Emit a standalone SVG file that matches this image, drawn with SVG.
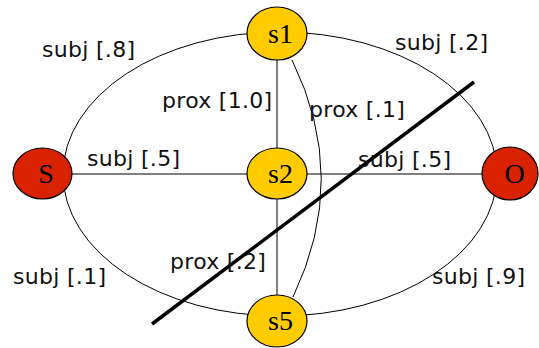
<svg xmlns="http://www.w3.org/2000/svg" width="539" height="348" viewBox="0 0 539 348">
<style>
.arc{fill:none;stroke:#000;stroke-width:1}
.ln{fill:none;stroke:#555;stroke-width:1.5}
.cut{fill:none;stroke:#000;stroke-width:3.5}
.lbl{font-family:"DejaVu Sans",Verdana,sans-serif;font-size:22px;fill:#111;letter-spacing:0.3px}
.y{fill:#FFCC00;stroke:#000;stroke-width:1.2}
.r{fill:#D92200;stroke:#000;stroke-width:1.2}
.nt{font-family:"Liberation Serif","Times New Roman",serif;font-size:28px;fill:#000;text-anchor:middle}
</style>
<rect width="539" height="348" fill="#fff"/>
<g id="connectors">
<path class="arc" d="M 63 174 A 217 142 0 0 1 280 32"/>
<path class="arc" d="M 280 32 A 217 142 0 0 1 497 174"/>
<path class="arc" d="M 497 174 A 217 142 0 0 1 280 316"/>
<path class="arc" d="M 280 316 A 217 142 0 0 1 63 174"/>
<line class="ln" x1="72" y1="174" x2="248" y2="174"/>
<line class="ln" x1="306" y1="174" x2="482" y2="174"/>
<line class="ln" x1="277" y1="60" x2="277" y2="148"/>
<line class="ln" x1="277" y1="199" x2="277" y2="295"/>
<path class="arc" d="M 292 60 Q 350 178 293 297"/>
<line class="cut" x1="152" y1="324" x2="474" y2="82"/>
</g>
<g id="labels">
<text class="lbl" x="42" y="57">subj [.8]</text>
<text class="lbl" x="162" y="108">prox [1.0]</text>
<text class="lbl" x="87" y="166">subj [.5]</text>
<text class="lbl" x="395" y="50">subj [.2]</text>
<text class="lbl" x="309" y="117">prox [.1]</text>
<text class="lbl" x="358" y="167">subj [.5]</text>
<text class="lbl" x="13" y="284">subj [.1]</text>
<text class="lbl" x="170" y="269">prox [.2]</text>
<text class="lbl" x="432" y="284">subj [.9]</text>
</g>
<g id="S"><ellipse class="r" cx="42.5" cy="173.5" rx="29.5" ry="25.5"/><text class="nt" x="46" y="183" font-size="29">S</text></g>
<g id="O"><ellipse class="r" cx="510" cy="173.5" rx="28" ry="26.5"/><text class="nt" x="514.5" y="183" font-size="29">O</text></g>
<g id="s1"><ellipse class="y" cx="277" cy="33.5" rx="30" ry="26.5"/><text class="nt" x="280.5" y="43">s1</text></g>
<g id="s2"><ellipse class="y" cx="277" cy="173.5" rx="30" ry="25.5"/><text class="nt" x="280.5" y="183">s2</text></g>
<g id="s5"><ellipse class="y" cx="277" cy="321" rx="30" ry="26"/><text class="nt" x="280.5" y="330">s5</text></g>
</svg>
